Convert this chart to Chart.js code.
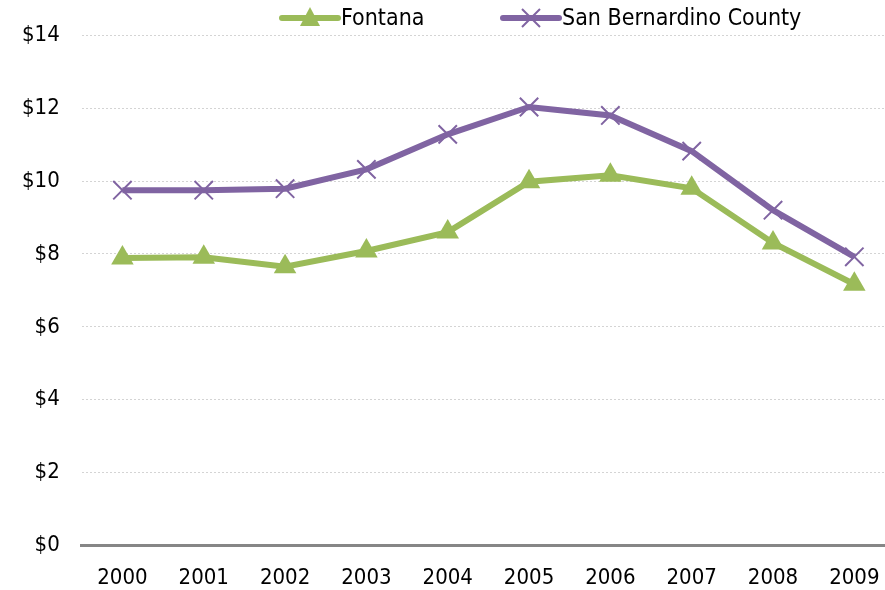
<!DOCTYPE html>
<html>
<head>
<meta charset="utf-8">
<script src="https://cdn.jsdelivr.net/npm/chart.js@4"></script>
<style>
  html, body { margin: 0; padding: 0; background: #fff; overflow: hidden; }
  #wrap { width: 885px; height: 590px; overflow: hidden; }
</style>
</head>
<body>
<div id="wrap"><canvas id="lineChart" width="910" height="610"></canvas></div>
<script>
const years   = ['2000', '2001', '2002', '2003', '2004', '2005', '2006', '2007', '2008', '2009'];
const fontana = [7.89, 7.91, 7.65, 8.08, 8.6, 9.98, 10.16, 9.8, 8.3, 7.17];
const county  = [9.75, 9.75, 9.79, 10.32, 11.28, 12.03, 11.8, 10.82, 9.2, 7.92];
const seriesNames = ['Fontana', 'San Bernardino County'];

const GREEN  = '#9BBB59';
const PURPLE = '#8064A2';
const FONT   = "'Liberation Sans Narrow', 'Arial Narrow', 'DejaVu Sans Condensed', sans-serif";

// legend drawn by hand so the spacing matches the original (line + marker, then text)
const topLegend = {
  id: 'topLegend',
  afterDraw(chart) {
    const ctx = chart.ctx;
    const y = 18;
    const items = [
      { x: 282, color: GREEN, kind: 'triangle', text: chart.data.datasets[0].label },
      { x: 503, color: PURPLE, kind: 'cross', text: chart.data.datasets[1].label }
    ];
    ctx.save();
    items.forEach(it => {
      const mid = it.x + 28;
      ctx.strokeStyle = it.color;
      ctx.lineWidth = 6;
      ctx.lineCap = 'round';
      ctx.beginPath(); ctx.moveTo(it.x, y); ctx.lineTo(it.x + 56, y); ctx.stroke();
      if (it.kind === 'triangle') {
        ctx.fillStyle = it.color;
        ctx.beginPath();
        ctx.moveTo(mid, y - 11); ctx.lineTo(mid + 10, y + 8); ctx.lineTo(mid - 10, y + 8);
        ctx.closePath(); ctx.fill();
      } else {
        ctx.lineWidth = 2; ctx.lineCap = 'butt';
        ctx.beginPath();
        ctx.moveTo(mid - 9, y - 9); ctx.lineTo(mid + 9, y + 9);
        ctx.moveTo(mid + 9, y - 9); ctx.lineTo(mid - 9, y + 9);
        ctx.stroke();
      }
      ctx.fillStyle = '#000';
      ctx.font = '23px ' + FONT;
      ctx.textBaseline = 'middle';
      ctx.textAlign = 'left';
      ctx.fillText(it.text, it.x + 59, y + 1);
    });
    ctx.restore();
  }
};

document.addEventListener('DOMContentLoaded', () => {
  new Chart(document.getElementById('lineChart'), {
    type: 'line',
    data: {
      labels: years,
      datasets: [
        {
          label: seriesNames[0], data: fontana,
          borderColor: GREEN, backgroundColor: GREEN, borderWidth: 6,
          pointStyle: 'triangle', pointRadius: 13, pointHoverRadius: 13,
          pointBorderWidth: 0, tension: 0
        },
        {
          label: seriesNames[1], data: county,
          borderColor: PURPLE, backgroundColor: PURPLE, borderWidth: 6,
          pointStyle: 'crossRot', pointRadius: 13, pointHoverRadius: 13,
          pointBorderWidth: 2, tension: 0
        }
      ]
    },
    options: {
      responsive: false,
      animation: false,
      layout: { padding: { left: 0, right: 0, top: 22, bottom: 0 } },
      plugins: {
        tooltip: { enabled: false },
        legend: { display: false }
      },
      scales: {
        x: {
          offset: true,
          grid: { display: false, drawTicks: false },
          border: { color: '#868686', width: 3 },
          ticks: { font: { family: FONT, size: 22 }, color: '#000', padding: 19 }
        },
        y: {
          min: 0, max: 14,
          border: { display: false, dash: [2, 2] },
          grid: { color: '#d4d4d4', lineWidth: 1, drawTicks: false },
          ticks: {
            stepSize: 2, padding: 22,
            font: { family: FONT, size: 22 }, color: '#000',
            callback: (v) => '$' + v
          }
        }
      }
    },
    plugins: [topLegend]
  });
});
</script>
</body>
</html>
